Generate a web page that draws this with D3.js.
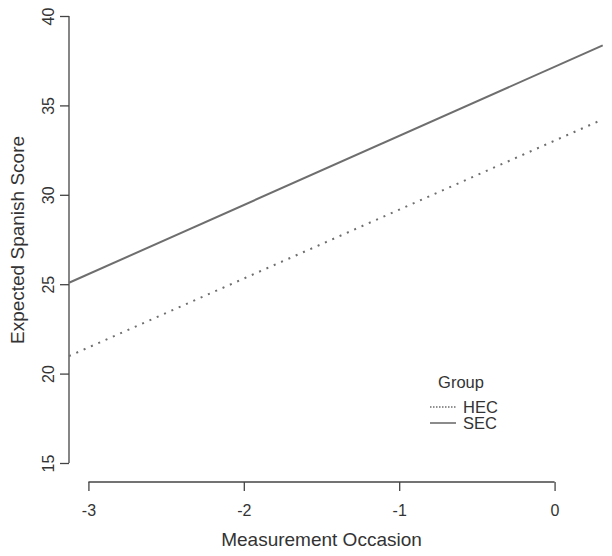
<!DOCTYPE html>
<html>
<head>
<meta charset="utf-8">
<script src="https://cdn.jsdelivr.net/npm/d3@7"></script>
<style>
  body { margin: 0; background: #fff; }
  svg text { font-family: "Liberation Sans", Arial, sans-serif; fill: #333; }
</style>
</head>
<body>
<div id="chart"></div>
<script>
// fitted lines, read at the ends of the drawn segments
const occasion = [-3.125, 0.31];
const groups = ["HEC", "SEC"];
const hecScore = [20.98, 34.22];
const secScore = [25.08, 38.36];
const xTicks = [-3, -2, -1, 0];
const yTicks = [15, 20, 25, 30, 35, 40];

const width = 612, height = 556;
const ink = "#444", lineColor = "#6e6e6e";

const svg = d3.select("#chart").append("svg")
    .attr("width", width)
    .attr("height", height);

// plot region: x -3.125..0.125 maps to 69..574
const x = d3.scaleLinear().domain([-3.125, 0.125]).range([69, 574]);
const y = d3.scaleLinear().domain([15, 40]).range([463, 16]);
const plotBottom = 482;

// x axis, R style: line only between first and last tick
const xAxis = svg.append("g")
    .attr("transform", `translate(0,${plotBottom})`)
    .call(d3.axisBottom(x).tickValues(xTicks).tickFormat(d => String(d)).tickSize(9).tickSizeOuter(0));
xAxis.select(".domain").attr("d", `M${x(-3)},0H${x(0)}`);
xAxis.selectAll(".tick text").attr("y", 23);

// y axis with rotated labels
const yAxis = svg.append("g")
    .attr("transform", `translate(${x(-3.125)},0)`)
    .call(d3.axisLeft(y).tickValues(yTicks).tickFormat(d => String(d)).tickSize(9).tickSizeOuter(0));
yAxis.select(".domain").attr("d", `M0,${y(15)}V${y(40)}`);
yAxis.selectAll(".tick text")
    .attr("x", null).attr("dy", "0.35em")
    .attr("text-anchor", "middle")
    .attr("transform", "translate(-21,0) rotate(-90)");

[xAxis, yAxis].forEach(g => {
    g.selectAll(".domain, .tick line").attr("stroke", ink).attr("stroke-width", 1.3);
    g.selectAll("text").attr("font-size", 16).style("fill", "#333");
});

// axis titles
svg.append("text")
    .attr("x", (x(-3.125) + x(0.125)) / 2)
    .attr("y", 546)
    .attr("text-anchor", "middle")
    .attr("font-size", 19)
    .text("Measurement Occasion");

svg.append("text")
    .attr("transform", "translate(24,240) rotate(-90)")
    .attr("text-anchor", "middle")
    .attr("font-size", 19)
    .text("Expected Spanish Score");

// lines
const series = [
    { name: groups[0], values: hecScore, dash: "2,6" },
    { name: groups[1], values: secScore, dash: null }
];
const line = d3.line().x(d => x(d[0])).y(d => y(d[1]));

svg.selectAll("path.fit")
    .data(series)
    .enter()
    .append("path")
    .attr("class", "fit")
    .attr("d", s => line(occasion.map((o, i) => [o, s.values[i]])))
    .attr("fill", "none")
    .attr("stroke", lineColor)
    .attr("stroke-width", 2)
    .attr("stroke-dasharray", s => s.dash);

// legend
const legend = svg.append("g").attr("transform", "translate(430,0)");
legend.append("text")
    .attr("x", 31).attr("y", 388)
    .attr("text-anchor", "middle")
    .attr("font-size", 16.5)
    .text("Group");
legend.selectAll("g.item")
    .data(series)
    .enter()
    .append("g")
    .attr("class", "item")
    .attr("transform", (d, i) => `translate(0,${407 + i * 16})`)
    .each(function(d) {
        const g = d3.select(this);
        g.append("line")
            .attr("x1", 0).attr("x2", 26)
            .attr("stroke", lineColor)
            .attr("stroke-width", d.dash ? 1.3 : 1.6)
            .attr("stroke-dasharray", d.dash ? "1.5,1.5" : null);
        g.append("text")
            .attr("x", 33).attr("dy", "0.35em")
            .attr("font-size", 16.5)
            .text(d.name);
    });
</script>
</body>
</html>
